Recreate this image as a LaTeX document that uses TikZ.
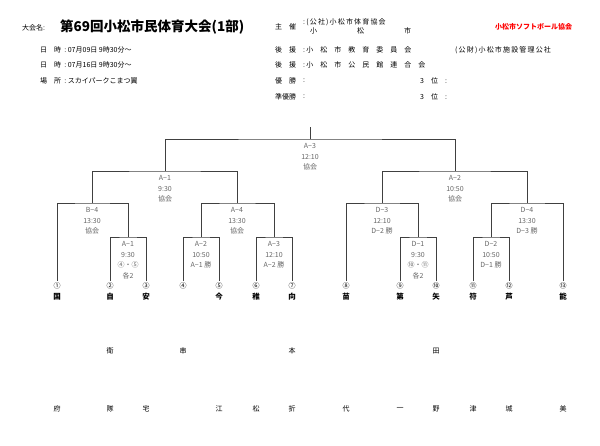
\documentclass[tikz,border=0pt]{standalone}
\usepackage{fontspec}
\setmainfont{Noto Sans CJK JP}
\newfontfamily\cjk{Noto Sans CJK JP}
\begin{document}
\begin{tikzpicture}[x=1pt,y=-1pt]
\tikzset{
  every node/.style={inner sep=0pt},
  hd/.style={font=\cjk\fontsize{7}{8}\selectfont,anchor=west},
  game/.style={below=4pt,align=center,text=black!60,font=\cjk\fontsize{7}{10.8}\selectfont},
  num/.style={font=\cjk\fontsize{7}{8}\selectfont},
  team/.style={font=\cjk\bfseries\fontsize{7.5}{8}\selectfont},
  line/.style={draw=black!75,line width=0.8pt}
}
\useasboundingbox (0,0) rectangle (600,446);
% header
\node[hd] (hname) at (22,28) {大会名:};
\node[font=\cjk\bfseries\fontsize{13.5}{14}\selectfont,anchor=west] (title) at (60,27) {第69回小松市民体育大会(1部)};
\node[hd] (d1) at (40,50) {日\quad 時\ \ :\ 07月09日 9時30分〜};
\node[hd] (d2) at (40,65) {日\quad 時\ \ :\ 07月16日 9時30分〜};
\node[hd] (pl) at (40,81) {場\quad 所\ \ :\ スカイパークこまつ翼};
\node[hd] (sh) at (275,27) {主\quad 催};
\node[hd] (sh1) at (303,22) {:\,(\,公\,社\,)\,小\,松\,市\,体\,育\,協\,会};
\node[hd] (sh2) at (310,31) {小\hspace{40pt}松\hspace{40pt}市};
\node[font=\cjk\bfseries\fontsize{7}{8}\selectfont,text=red,anchor=west] (org) at (495,27) {小松市ソフトボール協会};
\node[hd] (ko1) at (275,50) {後\quad 援};
\node[hd] (ko1t) at (303,50) {:\,小\quad 松\quad 市\quad 教\quad 育\quad 委\quad 員\quad 会};
\node[hd] (ko1u) at (455,50) {(\,公\,財\,)\,小\,松\,市\,施\,設\,管\,理\,公\,社};
\node[hd] (ko2) at (275,65) {後\quad 援};
\node[hd] (ko2t) at (303,65) {:\,小\quad 松\quad 市\quad 公\quad 民\quad 館\quad 連\quad 合\quad 会};
\node[hd] (yu) at (275,81) {優\quad 勝};
\node[hd] (yut) at (303,81) {:};
\node[hd] (yu3) at (420,81) {3\quad 位\quad :};
\node[hd] (ju) at (275,97) {準優勝};
\node[hd] (jut) at (303,97) {:};
\node[hd] (ju3) at (420,97) {3\quad 位\quad :};
% leaves
\foreach \i/\x/\n/\t in {1/57/①/国,2/110/②/自,3/146/③/安,4/183/④/,5/219/⑤/今,6/256/⑥/稚,7/292/⑦/向,
  8/346/⑧/苗,9/400/⑨/第,10/436/⑩/矢,11/473/⑪/符,12/509/⑫/芦,13/563/⑬/能}{
  \coordinate (p\i) at (\x,281);
  \node[num] (n\i) at (\x,285.5) {\n};
  \node[team] (t\i) at (\x,297) {\t};
}
% matches
\coordinate (ma1) at (128,237);
\coordinate (ma2) at (201,237);
\coordinate (ma3) at (274,237);
\coordinate (mb4) at (92,203);
\coordinate (ma4) at (237,203);
\coordinate (ml) at (165,171);
\coordinate (md1) at (418,237);
\coordinate (md2) at (491,237);
\coordinate (md3) at (382,203);
\coordinate (md4) at (527,203);
\coordinate (mr) at (455,171);
\coordinate (mf) at (310,139);
\coordinate (top) at (310,127);
\draw[line] (p2) |- (ma1) -| (p3);
\draw[line] (p4) |- (ma2) -| (p5);
\draw[line] (p6) |- (ma3) -| (p7);
\draw[line] (p1) |- (mb4) -| (ma1);
\draw[line] (ma2) |- (ma4) -| (ma3);
\draw[line] (mb4) |- (ml) -| (ma4);
\draw[line] (p9) |- (md1) -| (p10);
\draw[line] (p11) |- (md2) -| (p12);
\draw[line] (p8) |- (md3) -| (md1);
\draw[line] (md2) |- (md4) -| (p13);
\draw[line] (md3) |- (mr) -| (md4);
\draw[line] (ml) |- (mf) -| (mr);
\draw[line] (mf) -- (top);
% game labels
\node[game] (ga1) at (ma1) {A−1\\9:30\\④・⑤\\各2};
\node[game] (ga2) at (ma2) {A−2\\10:50\\A−1 勝};
\node[game] (ga3) at (ma3) {A−3\\12:10\\A−2 勝};
\node[game] (gb4) at (mb4) {B−4\\13:30\\協会};
\node[game] (ga4) at (ma4) {A−4\\13:30\\協会};
\node[game] (gl) at (ml) {A−1\\9:30\\協会};
\node[game] (gd1) at (md1) {D−1\\9:30\\⑩・⑪\\各2};
\node[game] (gd2) at (md2) {D−2\\10:50\\D−1 勝};
\node[game] (gd3) at (md3) {D−3\\12:10\\D−2 勝};
\node[game] (gd4) at (md4) {D−4\\13:30\\D−3 勝};
\node[game] (gr) at (mr) {A−2\\10:50\\協会};
\node[game] (gf) at (mf) {A−3\\12:10\\協会};
% lower names
\foreach \x/\t in {110/衛,183/串,292/本,436/田}
  \node[team,font=\cjk\fontsize{7}{8}\selectfont] at (\x,351) {\t};
\foreach \x/\t in {57/府,110/隊,146/宅,219/江,256/松,292/折,346/代,400/一,436/野,473/津,509/城,563/美}
  \node[team,font=\cjk\fontsize{7}{8}\selectfont] at (\x,409) {\t};
\end{tikzpicture}
\end{document}
